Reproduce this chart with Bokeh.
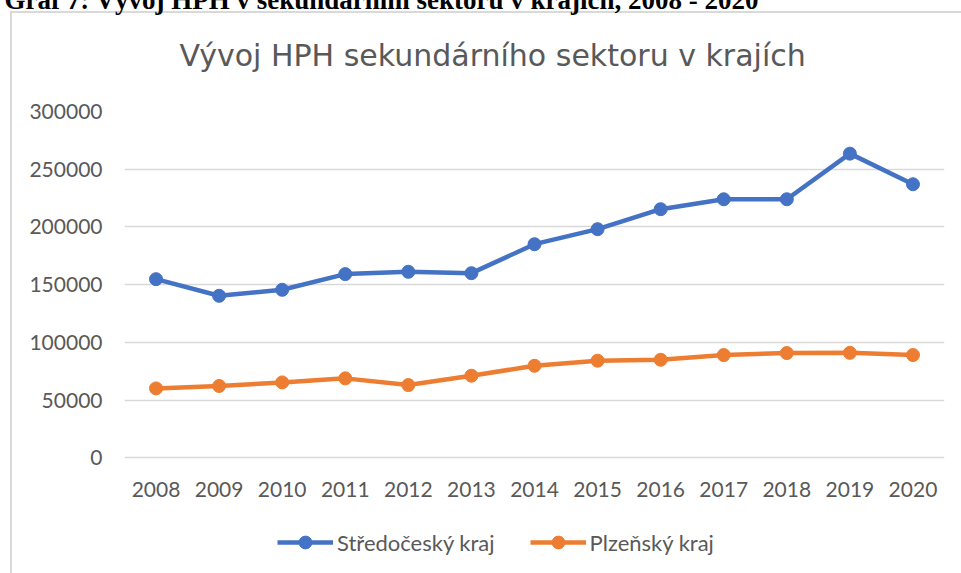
from bokeh.plotting import figure
from bokeh.models import (Range1d, FactorRange, FixedTicker, BasicTickFormatter,
                          Legend, LegendItem, Title, ColumnDataSource)
from bokeh.embed import file_html
from bokeh.resources import INLINE

years = ["2008", "2009", "2010", "2011", "2012", "2013", "2014",
         "2015", "2016", "2017", "2018", "2019", "2020"]
stredocesky = [154800, 140400, 145600, 159200, 161200, 160000, 185100,
               198100, 215400, 224000, 224000, 263500, 237000]
plzensky = [60200, 62300, 65400, 68900, 63100, 71200, 79800,
            84200, 85000, 89100, 90800, 91000, 89100]
y_ticks = [0, 50000, 100000, 150000, 200000, 250000, 300000]

chart_title = "Vývoj HPH sekundárního sektoru v krajích"
caption = "Graf 7: Vývoj HPH v sekundárním sektoru v krajích, 2008 - 2020"
series_names = ["Středočeský kraj", "Plzeňský kraj"]
colors = ["#4472C4", "#ED7D31"]

src = ColumnDataSource(dict(year=years, s=stredocesky, p=plzensky))

# layout: canvas is shifted 18px up; frame runs from the 300000 line to the canvas bottom
H = 591
frame_top, zero_px = 128.5, 475.3
y_top = max(y_ticks)
y_start = -y_top * (H - zero_px) / (zero_px - frame_top)

p = figure(x_range=FactorRange(factors=years), y_range=Range1d(y_start, y_top),
           width=961, height=H, output_backend="svg", toolbar_location=None,
           min_border_left=124, min_border_right=17, min_border_top=0,
           min_border_bottom=0, title=None)
border_css = ("linear-gradient(#D9D9D9,#D9D9D9) 10px 29px / 2px 100% no-repeat, "
              "linear-gradient(#D9D9D9,#D9D9D9) 10px 29px / 100% 2px no-repeat, #FFFFFF")
p.styles = {"margin-top": "-18px", "background": border_css}
p.outline_line_color = None
p.background_fill_color = "white"
p.border_fill_alpha = 0

# stacked from the frame outward: spacer, chart title, cut-off caption
p.add_layout(Title(text=" ", standoff=15, text_font_size="1px"), "above")
p.add_layout(Title(text=chart_title, align="left", offset=55, standoff=42,
                   text_font="DejaVu Sans", text_font_size="30px", text_font_style="normal",
                   text_color="#595959"), "above")
p.add_layout(Title(text=caption, align="left", offset=-120, standoff=0,
                   text_font="Liberation Serif", text_font_size="27px",
                   text_font_style="bold", text_color="black"), "above")

p.xgrid.visible = False
p.ygrid.grid_line_color = "#D9D9D9"
p.ygrid.grid_line_width = 1.5

p.yaxis.ticker = FixedTicker(ticks=y_ticks)
p.yaxis.formatter = BasicTickFormatter(use_scientific=False)
p.xaxis.fixed_location = 0
for ax in (p.xaxis[0], p.yaxis[0]):
    ax.axis_line_color = None
    ax.major_tick_line_color = None
    ax.minor_tick_line_color = None
    ax.major_tick_out = 0
    ax.minor_tick_out = 0
    ax.major_label_text_font = "Lato"
    ax.major_label_text_font_size = "21px"
    ax.major_label_text_color = "#595959"
p.yaxis.major_label_standoff = 22
p.xaxis.major_label_standoff = 24

renderers = []
for col, color in zip(["s", "p"], colors):
    l = p.line("year", col, source=src, line_width=4.5, line_color=color)
    m = p.scatter("year", col, source=src, size=13, fill_color=color, line_color=color)
    renderers.append([l, m])

legend = Legend(items=[LegendItem(label=n, renderers=r) for n, r in zip(series_names, renderers)],
                orientation="horizontal", location=(153, 15), padding=0, margin=0,
                spacing=35, glyph_width=56, glyph_height=32, label_standoff=4,
                border_line_color=None, background_fill_alpha=0,
                label_text_font="Lato", label_text_font_size="22px",
                label_text_color="#595959")
p.add_layout(legend)

open("out.html", "w").write(file_html(p, INLINE))
